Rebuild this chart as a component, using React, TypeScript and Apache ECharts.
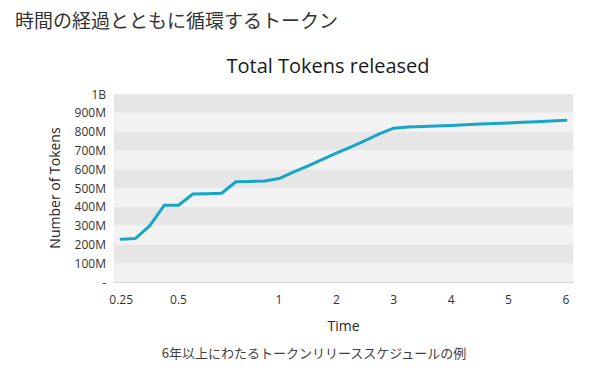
import React, { useEffect, useRef } from "react";
import * as echarts from "echarts";

const headerText = "時間の経過とともに循環するトークン";
const chartTitle = "Total Tokens released";
const captionText = "6年以上にわたるトークンリリーススケジュールの例";

// time points (years)
const timeCategories = [
  "0.25", "0.31", "0.38", "0.44", "0.5", "0.57", "0.64", "0.71", "0.79", "0.86", "0.93", "1",
  "1.25", "1.5", "1.75", "2", "2.25", "2.5", "2.75", "3", "3.25", "3.5", "3.75", "4",
  "4.25", "4.5", "4.75", "5", "5.25", "5.5", "5.75", "6",
];
const tickLabels = ["0.25", "0.5", "1", "2", "3", "4", "5", "6"];

// tokens released, in millions
const tokensReleased = [
  227, 232, 300, 408, 408, 468, 470, 472, 533, 535, 537, 550,
  584, 617, 651, 685, 718, 752, 788, 818, 824, 827, 830, 833,
  836, 840, 843, 846, 850, 853, 856, 860,
];

const FONT = "'Open Sans', 'Noto Sans', sans-serif";

export default function App() {
  const ref = useRef<HTMLDivElement>(null);
  useEffect(() => {
    if (!ref.current) return;
    const chart = echarts.init(ref.current, undefined, { renderer: "svg" });
    chart.setOption({
      animation: false,
      backgroundColor: "#ffffff",
      textStyle: { fontFamily: FONT },
      graphic: [
        {
          type: "text",
          x: 15,
          y: 19,
          style: {
            text: headerText,
            font: "400 19px 'Noto Sans CJK JP', serif",
            fill: "#333333",
            textVerticalAlign: "middle",
          },
        },
        {
          type: "text",
          x: 328,
          y: 65,
          style: {
            text: chartTitle,
            font: "400 20px " + FONT,
            fill: "#1a1a1a",
            textAlign: "center",
            textVerticalAlign: "middle",
          },
        },
        {
          type: "text",
          x: 314,
          y: 352,
          style: {
            text: captionText,
            font: "400 13px 'Noto Sans CJK JP', serif",
            fill: "#404040",
            textAlign: "center",
            textVerticalAlign: "middle",
          },
        },
      ],
      grid: { left: 114, right: 32, top: 94, bottom: 89, containLabel: false },
      xAxis: {
        type: "category",
        data: timeCategories,
        boundaryGap: true,
        name: "Time",
        nameLocation: "middle",
        nameGap: 36,
        nameTextStyle: { fontSize: 14, color: "#262626", fontFamily: FONT },
        axisLine: { show: true, lineStyle: { color: "#d4d4d4", width: 1 } },
        axisTick: { show: false },
        axisLabel: {
          interval: 0,
          margin: 11,
          fontSize: 12,
          color: "#333333",
          fontFamily: FONT,
          formatter: (v: string) => (tickLabels.includes(v) ? v : ""),
        },
        splitLine: { show: false },
      },
      yAxis: {
        type: "value",
        min: 0,
        max: 1000,
        interval: 100,
        name: "Number of Tokens",
        nameLocation: "middle",
        nameGap: 53,
        nameTextStyle: { fontSize: 14, color: "#262626", fontFamily: FONT },
        axisLine: { show: false },
        axisTick: { show: false },
        axisLabel: {
          margin: 8,
          fontSize: 12,
          color: "#333333",
          fontFamily: FONT,
          formatter: (v: number) => (v === 0 ? "-" : v >= 1000 ? "1B" : v + "M"),
        },
        splitLine: { show: false },
        splitArea: { show: true, areaStyle: { color: ["#f2f2f2", "#e6e6e6"] } },
      },
      series: [
        {
          type: "line",
          data: tokensReleased,
          symbol: "none",
          lineStyle: { color: "#17a6c7", width: 3, join: "round", cap: "round" },
          itemStyle: { color: "#17a6c7" },
        },
      ],
    });
    return () => chart.dispose();
  }, []);
  return (
    <div
      ref={ref}
      style={{ position: "absolute", left: 0, top: 0, width: 605, height: 371 }}
    />
  );
}
